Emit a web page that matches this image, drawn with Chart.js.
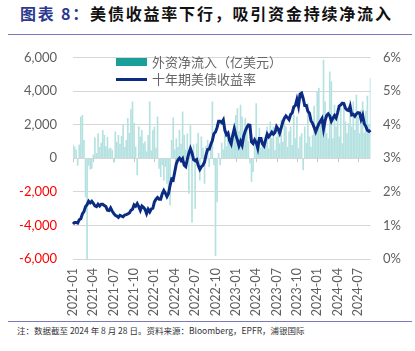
<!DOCTYPE html>
<html>
<head>
<meta charset="utf-8">
<script src="https://cdn.jsdelivr.net/npm/chart.js@4.4.1/dist/chart.umd.min.js"></script>
<style>
  html, body { margin: 0; padding: 0; background: #fff; }
  body { width: 415px; height: 351px; position: relative; overflow: hidden; font-family: "Noto Sans CJK SC", sans-serif; }
  .title { position: absolute; left: 20px; top: 1px; font-size: 16px; font-weight: bold; color: #111; letter-spacing: 1.8px; white-space: nowrap; }
  .title span { color: #2b3990; }
  .rule { position: absolute; left: 8px; width: 404px; height: 1px; background: #7a7ab8; }
  .note { position: absolute; left: 17px; top: 324px; font-size: 8.5px; color: #333; white-space: nowrap; }
  #wrap { position: absolute; left: 0; top: 40px; width: 415px; height: 278px; }
  .lg { position: absolute; font-size: 13px; color: #666; white-space: nowrap; line-height: 14px; }
</style>
</head>
<body>
<div class="title"><span>图表 8：</span>美债收益率下行，吸引资金持续净流入</div>
<div class="rule" style="top:34px"></div>
<div id="wrap"><canvas id="chart"></canvas></div>
<div style="position:absolute;left:116px;top:58px;width:31px;height:8px;background:#1a9e98"></div>
<div class="lg" style="left:152px;top:55px">外资净流入（亿美元）</div>
<div style="position:absolute;left:116px;top:78px;width:31px;height:3px;background:#0c2c84"></div>
<div class="lg" style="left:152px;top:72px">十年期美债收益率</div>
<div class="rule" style="top:321px"></div>
<div class="note">注：数据截至 2024 年 8 月 28 日。资料来源：Bloomberg，EPFR，浦银国际</div>

<script>
// 周度数据，每周三，2021-01-06 起
var quarterTicks = ['2021-01', '2021-04', '2021-07', '2021-10', '2022-01', '2022-04', '2022-07', '2022-10',
    '2023-01', '2023-04', '2023-07', '2023-10', '2024-01', '2024-04', '2024-07'];

// 外资净流入（亿美元）
var flows = [
    780, 680, 480, -420, 800, 2450, 2550, 1070, -2300, -6100,
    -420, -650, -600, 200, 1230, 300, 1470, 650, 900, 1670,
    1370, 700, 1250, 550, 600, 480, -220, 1570, 950, 1370,
    850, 1300, 1970, 650, 1070, 2370, 1500, 2900, 3360, 2100,
    680, -1000, 1870, 1270, 1670, 870, 980, 400, 1370, 3360,
    450, 1670, 1870, 600, 2470, -600, -1100, -400, -1300, -500,
    -1500, -2100, -2800, 1070, 2400, 500, 1150, 650, 1670, 850,
    2770, 1370, 470, 1450, -2100, 1950, -3800, 800, -3000, 880,
    1500, -1300, 1270, 600, -1500, 700, 1070, -500, 600, 3360,
    -400, -5800, -2600, 300, -400, 900, 500, 1370, 700, 1270,
    1500, 600, 1200, 1800, 2560, 2960, 1600, 3160, 2470, 1170,
    2370, 1970, 1000, -300, -1400, -800, 880, 3260, 1070, 1800,
    600, 1250, 870, 1270, 1870, 570, 2170, 1170, 1870, 470,
    1270, 1670, 870, 2270, 970, 2170, 1870, 670, 1570, 1870,
    770, 2570, 1170, 2470, 570, 1270, 1470, -700, 1870, 900,
    3260, 1270, 670, 1370, 3100, 1470, 3960, 4160, 2060, 1870,
    5850, 3360, 1470, 1170, 5150, 4560, 1170, 3170, 1870, 2670,
    1270, 2970, 870, 3170, 2170, 1470, 2070, 3460, 1870, 3360,
    1670, 3760, 2470, 1470, 2870, 3360, 1500, 2800, 3700, 2000,
    4770
];

// 十年期美债收益率（%）
var yields = [
    1.04, 1.09, 1.09, 1.07, 1.17, 1.20, 1.34, 1.41, 1.56, 1.62, 1.72, 1.67, 1.72, 1.66, 1.58, 1.56, 1.63, 1.58,
    1.63, 1.63, 1.59, 1.56, 1.45, 1.44, 1.52, 1.43, 1.36, 1.30, 1.28, 1.24, 1.30, 1.28, 1.26, 1.31, 1.32, 1.34,
    1.37, 1.45, 1.48, 1.61, 1.57, 1.65, 1.56, 1.45, 1.58, 1.54, 1.48, 1.35, 1.48, 1.40, 1.49, 1.51,
    1.70, 1.78, 1.83, 1.78, 1.78, 1.94, 2.04, 1.96, 1.86, 1.95, 2.19, 2.38, 2.35, 2.60, 2.84, 2.95, 3.00, 2.93,
    2.99, 2.79, 2.75, 2.97, 3.15, 3.29, 3.16, 2.96, 2.93, 2.96, 2.78, 2.67, 2.75, 2.79, 2.89, 3.11, 3.26, 3.27,
    3.41, 3.53, 3.73, 3.78, 3.91, 4.10, 4.10, 4.06, 4.14, 3.83, 3.70, 3.75, 3.53, 3.43, 3.68, 3.88,
    3.69, 3.54, 3.37, 3.50, 3.39, 3.66, 3.81, 3.92, 3.99, 3.98, 3.49, 3.44, 3.55, 3.47, 3.30, 3.59, 3.59, 3.43,
    3.37, 3.55, 3.72, 3.64, 3.70, 3.78, 3.72, 3.77, 3.94, 3.87, 3.75, 3.91, 4.08, 4.19, 4.26, 4.21, 4.15, 4.30,
    4.35, 4.53, 4.57, 4.75, 4.55, 4.91, 4.94, 4.78, 4.57, 4.57, 4.40, 4.34, 4.12, 4.04, 3.92, 3.79,
    3.91, 4.02, 4.10, 4.18, 3.87, 4.12, 4.27, 4.32, 4.26, 4.10, 4.19, 4.27, 4.20, 4.36, 4.55, 4.59, 4.64, 4.63,
    4.49, 4.44, 4.42, 4.55, 4.29, 4.31, 4.25, 4.32, 4.36, 4.35, 4.16, 4.28, 4.03, 3.95, 3.83, 3.80, 3.84
];

var firstWeek = Date.UTC(2021, 0, 6);
var weeks = flows.map(function (v, i) {
    return new Date(firstWeek + i * 7 * 864e5).toISOString().slice(0, 10);
});

function quarterLabel(d) {
    var m = d.slice(0, 7);
    return (quarterTicks.indexOf(m) >= 0 && Number(d.slice(8)) <= 7) ? m : null;
}

// 零轴上的小刻度
var zeroTicks = {
    id: 'zeroTicks',
    beforeDatasetsDraw: function (chart) {
        var ctx = chart.ctx, x = chart.scales.x, y0 = chart.scales.y.getPixelForValue(0);
        ctx.save();
        ctx.strokeStyle = '#c8c8c8';
        ctx.lineWidth = 1;
        weeks.forEach(function (d, i) {
            if (quarterLabel(d)) {
                var px = Math.round(x.getPixelForValue(i)) + 0.5;
                ctx.beginPath();
                ctx.moveTo(px, y0);
                ctx.lineTo(px, y0 + 4);
                ctx.stroke();
            }
        });
        ctx.restore();
    }
};

var axisFont = { family: 'Lato', size: 13 };

// 纵轴固定宽度，不让刻度间距撑开绘图区上边
function fixY(w) {
    return function (s) {
        s.width = w;
        s.paddingTop = 0;
        s.paddingBottom = 0;
    };
}

new Chart(document.getElementById('chart').getContext('2d'), {
    data: {
        labels: weeks,
        datasets: [
            {
                type: 'line',
                label: '十年期美债收益率',
                data: yields,
                yAxisID: 'y1',
                borderColor: '#0c2c84',
                borderWidth: 3,
                pointRadius: 0,
                tension: 0,
                order: 0
            },
            {
                type: 'bar',
                label: '外资净流入（亿美元）',
                data: flows,
                yAxisID: 'y',
                backgroundColor: '#b5e2e0',
                barThickness: 1,
                order: 1
            }
        ]
    },
    options: {
        responsive: true,
        maintainAspectRatio: false,
        animation: false,
        layout: { padding: { top: 17.5, left: 0, right: 0, bottom: 0 } },
        plugins: {
            legend: { display: false },
            tooltip: { enabled: false }
        },
        scales: {
            x: {
                type: 'category',
                offset: false,
                grid: { display: false, drawTicks: false },
                border: { display: false },
                ticks: {
                    autoSkip: false,
                    maxRotation: 90,
                    minRotation: 90,
                    padding: 9,
                    color: '#5f5f5f',
                    font: { family: 'Lato', size: 12.5 },
                    callback: function (val) {
                        return quarterLabel(this.getLabelForValue(val));
                    }
                },
                afterFit: function (s) { s.height = 59; }
            },
            y: {
                position: 'left',
                min: -6000,
                max: 6000,
                grid: { color: '#d6d6d6', lineWidth: 1, drawTicks: false },
                border: { display: false },
                ticks: {
                    stepSize: 2000,
                    padding: 16,
                    font: axisFont,
                    color: function (c) { return c.tick.value < 0 ? '#ff0000' : '#5f5f5f'; },
                    callback: function (v) { return v.toLocaleString('en-US'); }
                },
                afterFit: fixY(73)
            },
            y1: {
                position: 'right',
                min: 0,
                max: 6,
                grid: { display: false, drawTicks: false },
                border: { display: false },
                ticks: {
                    stepSize: 1,
                    padding: 12.5,
                    font: axisFont,
                    color: '#5f5f5f',
                    callback: function (v) { return v + '%'; }
                },
                afterFit: fixY(44.5)
            }
        }
    },
    plugins: [zeroTicks]
});
</script>
</body>
</html>
